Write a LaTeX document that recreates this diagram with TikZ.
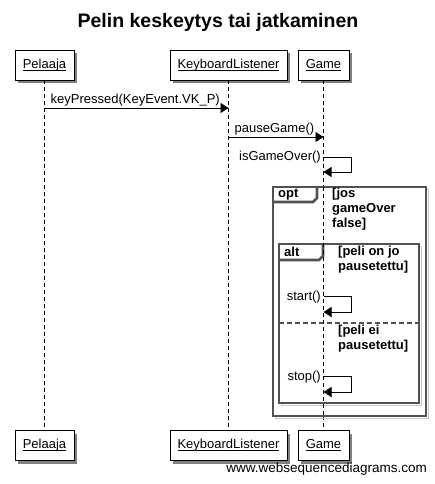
\documentclass[tikz,border=0pt]{standalone}
\usepackage{fontspec}
\setmainfont{Liberation Sans}
\usetikzlibrary{arrows.meta,positioning}

\tikzset{
  actor/.style={draw, fill=white, line width=0.8pt, minimum height=30pt,
    inner sep=0pt, font=\fontsize{13}{15}\selectfont},
  actorshadow/.style={fill=black!50, draw=none},
  lifeline/.style={dashed, dash pattern=on 4pt off 3pt, line width=0.7pt},
  msg/.style={line width=0.8pt, -{Triangle[length=8pt,width=10pt]}},
  msgtext/.style={font=\fontsize{13}{15}\selectfont, inner sep=1pt},
  frame/.style={draw=black!68, line width=2.6pt},
  frameshadow/.style={draw=black!22, line width=1.5pt},
  guard/.style={font=\bfseries\fontsize{13}{15}\selectfont, align=left, inner sep=0pt, anchor=north west},
}

\newcommand{\actorbox}[4]{% name, x, y, width
  \fill[actorshadow] (#2-#4/2+3, #3-15+3) rectangle (#2+#4/2+3, #3+15+3);
}
\newcommand{\ulabel}[1]{\setbox0\hbox{#1}\rlap{\rule[-2.5pt]{\wd0}{0.9pt}}\box0}

\begin{document}
\begin{tikzpicture}[x=1pt,y=-1pt]
\useasboundingbox (0,0) rectangle (435,484);

% title
\node[font=\bfseries\fontsize{19.5}{22}\selectfont] (title) at (218,22) {Pelin keskeytys tai jatkaminen};

% participants (top)
\actorbox{}{44.5}{65}{59}
\actorbox{}{228.5}{65}{117}
\actorbox{}{323.5}{65}{51}
\node[actor, minimum width=59pt] (pelaajaT) at (44.5,65) {\ulabel{Pelaaja}};
\node[actor, minimum width=117pt] (klT) at (228.5,65) {\ulabel{KeyboardListener}};
\node[actor, minimum width=51pt] (gameT) at (323.5,65) {\ulabel{Game}};

% participants (bottom)
\actorbox{}{44.5}{445.5}{59}
\actorbox{}{228.5}{445.5}{117}
\actorbox{}{323.5}{445.5}{51}
\node[actor, minimum width=59pt] (pelaajaB) at (44.5,445.5) {\ulabel{Pelaaja}};
\node[actor, minimum width=117pt] (klB) at (228.5,445.5) {\ulabel{KeyboardListener}};
\node[actor, minimum width=51pt] (gameB) at (323.5,445.5) {\ulabel{Game}};

% lifelines
\draw[lifeline] (pelaajaT.south) -- (pelaajaB.north);
\draw[lifeline] (klT.south) -- (klB.north);
\draw[lifeline] (gameT.south) -- (gameB.north);

% opt frame
\draw[frameshadow] (275.5,189.5) rectangle (428.5,418.5);
\draw[frame, fill=white] (273,187) rectangle (426,416);
\draw[frame] (273,202) -- (313,202) -- (317,198) -- (317,187);
\node[font=\bfseries\fontsize{13}{15}\selectfont, anchor=west, inner sep=0pt] (optlbl) at (278,194.5) {opt};
\node[guard] (optguard) at (332,187.5) {[jos\\gameOver\\false]};

% alt frame
\draw[frameshadow] (281.5,246.5) rectangle (421.5,405.5);
\draw[frame, fill=white] (279,244) rectangle (419,403);
\draw[frame] (279,260) -- (319,260) -- (323,256) -- (323,244);
\node[font=\bfseries\fontsize{13}{15}\selectfont, anchor=west, inner sep=0pt] (altlbl) at (284,252) {alt};
\node[guard] (altguard1) at (338,246) {[peli on jo\\pausetettu]};
\draw[frame, dash pattern=on 5pt off 3pt] (279,323) -- (419,323);
\node[guard] (altguard2) at (338,325) {[peli ei\\pausetettu]};

% lifeline over frames
\draw[lifeline] (323.5,187) -- (323.5,416);

% messages
\coordinate (m1a) at (44.5,108);
\coordinate (m1b) at (228.5,108);
\draw[msg] (m1a) -- (m1b);
\node[msgtext, anchor=south west] (m1t) at ([xshift=5pt,yshift=1pt]m1a) {keyPressed(KeyEvent.VK\_P)};

\coordinate (m2a) at (228.5,137);
\coordinate (m2b) at (323.5,137);
\draw[msg] (m2a) -- (m2b);
\node[msgtext, anchor=south west] (m2t) at ([xshift=5pt,yshift=1pt]m2a) {pauseGame()};

% self messages
\coordinate (s1) at (323.5,157);
\draw[msg] (s1) -- ++(28,0) -- ++(0,15) -- ++(-28,0);
\node[msgtext, anchor=east] (s1t) at (322,157) {isGameOver()};

\coordinate (s2) at (323.5,296);
\draw[msg] (s2) -- ++(28,0) -- ++(0,16) -- ++(-28,0);
\node[msgtext, anchor=east] (s2t) at (322,297) {start()};

\coordinate (s3) at (323.5,376);
\draw[msg] (s3) -- ++(28,0) -- ++(0,16) -- ++(-28,0);
\node[msgtext, anchor=east] (s3t) at (322,377) {stop()};

% footer
\node[font=\fontsize{13.5}{15}\selectfont, anchor=east, inner sep=0pt] (footer) at (427,469) {www.websequencediagrams.com};
\end{tikzpicture}
\end{document}
